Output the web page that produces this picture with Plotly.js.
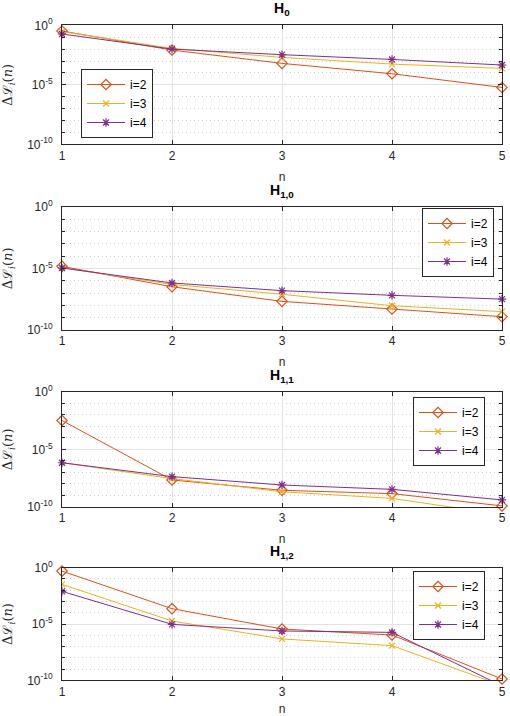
<!DOCTYPE html>
<html>
<head>
<meta charset="utf-8">
<script src="https://cdn.plot.ly/plotly-3.0.1.min.js"></script>
<style>html,body{margin:0;padding:0;background:#fff;}#chart{width:510px;height:716px;}</style>
</head>
<body>
<div id="chart"></div>
<script>
// ---- data ----
const nValues = [1, 2, 3, 4, 5];
const seriesNames = ["i=2", "i=3", "i=4"];
const panelTitles = ["<b>H<sub>0</sub></b>", "<b>H<sub>1,0</sub></b>", "<b>H<sub>1,1</sub></b>", "<b>H<sub>1,2</sub></b>"];

// H_0
const h0_i2 = [3.3e-1, 8.3e-3, 6.3e-4, 8.5e-5, 6.0e-6];
const h0_i3 = [2.95e-1, 1.15e-2, 2.0e-3, 5.5e-4, 2.4e-4];
const h0_i4 = [1.86e-1, 1.0e-2, 3.4e-3, 1.35e-3, 4.6e-4];
// H_{1,0}
const h10_i2 = [1.45e-5, 3.2e-7, 2.1e-8, 5.0e-9, 1.2e-9];
const h10_i3 = [1.12e-5, 5.0e-7, 7.9e-8, 9.3e-9, 3.1e-9];
const h10_i4 = [1.07e-5, 6.5e-7, 1.55e-7, 6.5e-8, 3.2e-8];
// H_{1,1}
const h11_i2 = [3.2e-3, 2.2e-8, 2.8e-9, 1.45e-9, 1.25e-10];
const h11_i3 = [6.9e-7, 2.9e-8, 2.1e-9, 5.6e-10, 2.2e-11];
const h11_i4 = [6.9e-7, 4.3e-8, 8.1e-9, 3.4e-9, 4.1e-10];
// H_{1,2}
const h12_i2 = [5.0e-1, 2.3e-4, 3.6e-6, 1.05e-6, 1.3e-10];
const h12_i3 = [3.3e-2, 1.86e-5, 4.7e-7, 1.2e-7, 3.4e-11];
const h12_i4 = [7.9e-3, 9.3e-6, 2.4e-6, 1.8e-6, 3.2e-11];

const xTickVals = [1, 2, 3, 4, 5];
const xTickText = ["1", "2", "3", "4", "5"];
const yTickVals = [1, 1e-5, 1e-10];
const yTickText = ["10<sup>0</sup>", "10<sup>-5</sup>", "10<sup>-10</sup>"];
const yMinorVals = [1e-1, 1e-2, 1e-3, 1e-4, 1e-6, 1e-7, 1e-8, 1e-9];

// ---- styling ----
const colors = ["#D95319", "#EDB120", "#7E2F8E"];
const symbols = ["diamond-open", "x-thin-open", "asterisk-open"];
const msizes = [8, 6, 7];
const panels = [
  [h0_i2, h0_i3, h0_i4],
  [h10_i2, h10_i3, h10_i4],
  [h11_i2, h11_i3, h11_i4],
  [h12_i2, h12_i3, h12_i4]
];
// pixel geometry (top, bottom) of each plot area
const W = 510, H = 716;
const plotBoxes = [[25.3, 144.3], [206.7, 330], [391.7, 507], [567.7, 680.3]];
const xLeft = 62, xRight = 502;
const legendPos = [[81, 69], [422, 208], [413, 397], [413, 571]];

const font = "Liberation Sans, Arial, sans-serif";
const axisColor = "#262626";

const traces = [];
const layout = {
  width: W, height: H,
  margin: {l: 0, r: 0, t: 0, b: 0},
  paper_bgcolor: "#fff", plot_bgcolor: "#fff",
  font: {family: font, size: 11, color: axisColor},
  annotations: [],
  showlegend: true
};

panels.forEach((series, p) => {
  const ax = p === 0 ? "" : String(p + 1);
  const xa = "x" + ax, ya = "y" + ax;
  const legName = p === 0 ? "legend" : "legend" + (p + 1);
  series.forEach((vals, s) => {
    const anyOut = vals.some(v => v < 1e-10);
    traces.push({
      x: nValues, y: vals, name: seriesNames[s],
      type: "scatter", mode: "lines+markers",
      xaxis: xa, yaxis: ya, legend: legName,
      cliponaxis: anyOut,
      line: {color: colors[s], width: 1},
      marker: {symbol: symbols[s], size: msizes[s], color: colors[s], line: {color: colors[s], width: 1.2}}
    });
  });
  const [top, bot] = plotBoxes[p];
  const dom = [1 - bot / H, 1 - top / H];
  layout["xaxis" + ax] = {
    domain: [xLeft / W, xRight / W], anchor: ya,
    range: [1, 5], tickmode: "array", tickvals: xTickVals, ticktext: xTickText,
    showline: true, linecolor: axisColor, linewidth: 1, mirror: "ticks",
    ticks: "inside", ticklen: 4, tickcolor: axisColor,
    showgrid: true, gridcolor: "#e3e3e3", gridwidth: 1, zeroline: false,
    tickfont: {family: font, size: 12, color: axisColor},
    title: {text: "n", font: {family: font, size: 12, color: axisColor}, standoff: 10},
    automargin: false
  };
  layout["yaxis" + ax] = {
    domain: dom, anchor: xa, type: "log",
    range: [-10, 0], tickmode: "array", tickvals: yTickVals, ticktext: yTickText,
    showline: true, linecolor: axisColor, linewidth: 1, mirror: "ticks",
    ticks: "inside", ticklen: 4, tickcolor: axisColor,
    showgrid: true, gridcolor: "#e3e3e3", gridwidth: 1, zeroline: false,
    minor: {tickmode: "array", tickvals: yMinorVals, ticks: "inside", ticklen: 3, tickcolor: axisColor,
            showgrid: true, gridcolor: "#cfcfcf", griddash: "1px,3px", gridwidth: 1},
    tickfont: {family: font, size: 12, color: axisColor},
    ticklabelstandoff: 6,
    title: {text: "Δℒ<sub><i>i</i></sub>(<i>n</i>)", font: {family: "DejaVu Serif, serif", size: 13, color: axisColor}, standoff: 11},
    automargin: false
  };
  const [lx, ly] = legendPos[p];
  layout[legName] = {
    x: lx / W, y: 1 - ly / H, xanchor: "left", yanchor: "top",
    xref: "paper", yref: "paper",
    bgcolor: "#fff", bordercolor: axisColor, borderwidth: 1,
    font: {family: font, size: 12, color: "#000"},
    itemwidth: 38, tracegroupgap: 0
  };
  layout.annotations.push({
    text: panelTitles[p], xref: "paper", yref: "paper",
    x: (xLeft + xRight) / 2 / W, y: 1 - (top - 5) / H,
    xanchor: "center", yanchor: "bottom", showarrow: false,
    font: {family: font, size: 14, color: "#000"}
  });
});

Plotly.newPlot("chart", traces, layout, {displayModeBar: false, staticPlot: true});
</script>
</body>
</html>
